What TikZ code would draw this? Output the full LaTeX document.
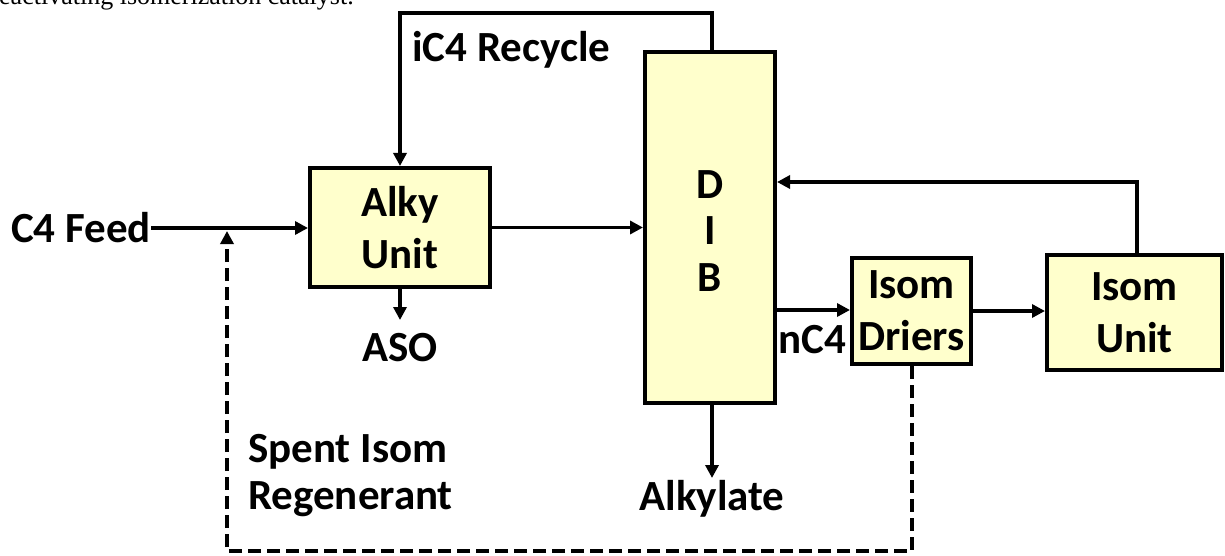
\documentclass[tikz,border=0pt]{standalone}
\usepackage{fontspec}
\setmainfont{Carlito}
\newfontfamily\notefont{Liberation Serif}
\usetikzlibrary{arrows.meta}
\definecolor{boxfill}{HTML}{FFFFCC}
\begin{document}
\begin{tikzpicture}[x=1pt,y=-1pt,
  unitbox/.style={draw=black, line width=4pt, fill=boxfill, inner sep=0pt, align=center,
    font=\bfseries\fontsize{43}{52}\selectfont},
  lbl/.style={inner sep=0pt, font=\bfseries\fontsize{43}{47}\selectfont},
  flow/.style={line width=3.3pt, -{Triangle[length=13pt,width=13pt]}},
  regen/.style={line width=3.6pt, dash pattern=on 13pt off 6pt, -{Triangle[length=13pt,width=13pt]}}]
\clip (0,0) rectangle (1225,556);
\fill[white] (0,0) rectangle (1225,556);
\node[anchor=base west, inner sep=0pt, font=\notefont\fontsize{26}{30}\selectfont] (note) at (-1,5) {eactivating isomerization catalyst.};
% boxes
\node[unitbox, minimum width=180pt, minimum height=119pt] (alky) at (400,227.5) {Alky\\Unit};
\node[unitbox, minimum width=130pt, minimum height=351pt] (dib) at (710,227.5) {};
\node[lbl, align=center, font=\bfseries\fontsize{43}{46.5}\selectfont] (dibtxt) at (710,231) {D\\I\\B};
\node[unitbox, minimum width=119pt, minimum height=106pt] (driers) at (911.5,311) {Isom\\Driers};
\node[unitbox, minimum width=175pt, minimum height=115pt] (isom) at (1134.5,312.5) {Isom\\Unit};
% labels
\node[lbl, anchor=east] (feed) at (151,228) {C4 Feed};
\node[lbl, anchor=west] (recycle) at (412,50) {iC4 Recycle};
\node[lbl] (aso) at (400,348) {ASO};
\node[lbl] (alkylate) at (712,499) {Alkylate};
\node[lbl] (nc4) at (812,340) {nC4};
\node[lbl, anchor=west, align=left] (spent) at (248,476) {Spent Isom\\Regenerant};
% coordinates
\coordinate (j) at (227,228);
\coordinate (topr) at (712,13);
\coordinate (rt) at (1137,182);
\coordinate (dr) at (912,551);
\coordinate (dl) at (227,551);
\coordinate (asoend) at (400,320);
\coordinate (alkend) at (712,478);
% connectors
\draw[flow] (feed.east) -- (alky.west |- feed.east);
\draw[flow] (dib.north -| topr) -- (topr) -| (alky.north);
\draw[flow] (alky.east) -- (dib.west |- alky.east);
\draw[flow] (alky.south) -- (asoend);
\draw[flow] (dib.south -| alkend) -- (alkend);
\draw[flow] (dib.east |- 0,310) -- (driers.west |- 0,310);
\draw[flow] (driers.east |- 0,311) -- (isom.west |- 0,311);
\draw[flow] (isom.north -| rt) -- (rt) -- (dib.east |- rt);
\draw[regen] (driers.south -| dr) -- (dr) -- (dl) -- ([yshift=-3pt]j);
\end{tikzpicture}
\end{document}
